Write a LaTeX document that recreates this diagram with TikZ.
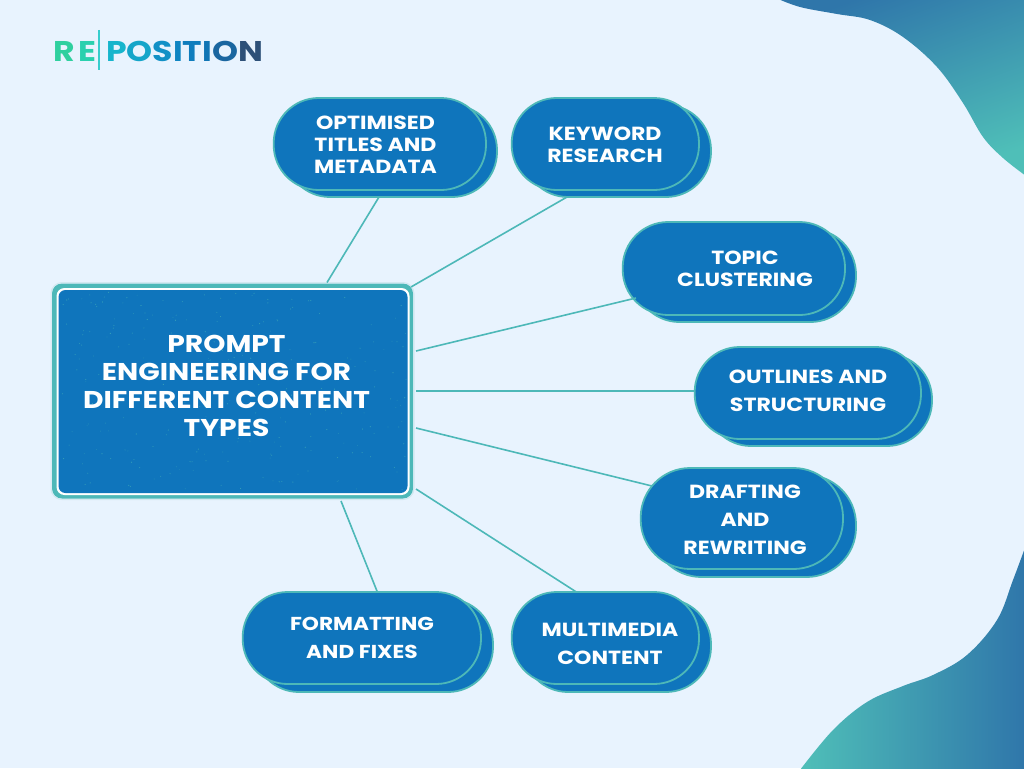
\documentclass[tikz,border=0pt]{standalone}
\usepackage{fontspec}
\setmainfont{Poppins}[FakeStretch=1.16]
\usetikzlibrary{calc}
\definecolor{pagebg}{HTML}{E8F3FE}
\definecolor{pillblue}{HTML}{0F75BC}
\definecolor{tealline}{HTML}{4DB8B8}
\definecolor{palering}{HTML}{D3E8F0}
\definecolor{blobblue}{HTML}{2F76AA}
\definecolor{blobteal}{HTML}{4FBFB8}
\tikzset{
  x=1pt,y=-1pt,
  pillshape/.style={draw=tealline,fill=pillblue,line width=1.8pt,inner sep=0pt,outer sep=0pt,rectangle},
  pilltext/.style={text=white,font=\bfseries,align=center,inner sep=0pt},
  connector/.style={draw=tealline,line width=1.6pt},
  hubring/.style={inner sep=0pt,outer sep=0pt,rectangle},
}
% #1 name, #2 left, #3 top, #4 right, #5 bottom, #6 back right, #7 back bottom
\newcommand{\mypill}[7]{%
  \pgfmathsetmacro{\myrad}{((#5)-(#3))/2-1}%
  \node[pillshape,minimum width={(#6)-(#2)-12},minimum height={(#7)-(#3)-7},rounded corners=\myrad pt] (#1back) at ({((#2)+12+(#6))/2},{((#3)+7+(#7))/2}) {};
  \node[pillshape,minimum width={(#4)-(#2)-0.7},minimum height={(#5)-(#3)},rounded corners=\myrad pt] (#1) at ({((#2)+0.7+(#4))/2},{((#3)+(#5))/2}) {};
}
\begin{document}
\begin{tikzpicture}
\useasboundingbox (0,0) rectangle (1024,768);
\fill[pagebg] (0,0) rectangle (1024,768);
% corner blobs
\begin{scope}
\clip plot[smooth,tension=0.6] coordinates {(776,-2)(800,7)(837,14)(870,20)(903,37)(937,67)(963,103)(983,137)(1003,158)(1026,176)} -- (1026,-2) -- cycle;
\shade[top color=blobblue,bottom color=blobteal,shading angle=20] (776,-2) rectangle (1026,176);
\end{scope}
\begin{scope}
\clip plot[smooth,tension=0.6] coordinates {(800,770)(833,730)(867,702)(903,686)(933,675)(967,655)(997,620)(1013,580)(1026,545)} -- (1026,770) -- cycle;
\shade[left color=blobteal,right color=blobblue] (800,540) rectangle (1026,770);
\end{scope}
% logo
\node[inner sep=0pt,anchor=base west,font=\bfseries\fontsize{28.5}{28}\selectfont] (logoa) at (53,61)
  {\textcolor[HTML]{2FD09F}{R}\kern3.5pt\textcolor[HTML]{2AD0AE}{E}};
\node[inner sep=0pt,anchor=base west,font=\bfseries\fontsize{28.5}{28}\selectfont] (logob) at (106,61)
  {\textcolor[HTML]{16B5CC}{P}\textcolor[HTML]{14A5C9}{O}\textcolor[HTML]{1190C6}{S}\textcolor[HTML]{0F85C2}{I}\textcolor[HTML]{0F7DBD}{T}\textcolor[HTML]{1075B5}{I}\textcolor[HTML]{1A66A0}{O}\textcolor[HTML]{2D5078}{N}};
\coordinate (logotop) at (99,30);
\coordinate (logobot) at (99,70);
\draw[line width=1.2pt,draw=tealline!70!cyan] (logotop) -- (logobot);
% hub
\node[hubring,draw=palering,line width=1pt,fill=pagebg,minimum width=363,minimum height=217,rounded corners=11pt] (hubouter) at (232.5,391) {};
\node[hubring,fill=tealline,minimum width=361,minimum height=215,rounded corners=10pt] (hubteal) at (232.5,391) {};
\node[hubring,fill=white,minimum width=353,minimum height=207,rounded corners=8pt] (hubwhite) at (233,391.5) {};
\node[hubring,fill=pillblue,minimum width=349,minimum height=203,rounded corners=7pt] (hub) at (233,391.5) {};
\begin{scope}
\pgfmathsetseed{42}
\foreach \i in {1,...,260}{
  \pgfmathsetmacro{\dx}{60+rnd*348}
  \pgfmathsetmacro{\dy}{292+rnd*200}
  \pgfmathsetmacro{\da}{0.2+rnd*0.45}
  \fill[tealline,opacity=\da] (\dx,\dy) circle (0.6pt);
}
\end{scope}
\node[pilltext,font=\bfseries\fontsize{24.3}{28}\selectfont] (hubtext) at (226.5,386.3) {PROMPT\\ENGINEERING FOR\\DIFFERENT CONTENT\\TYPES};
% pills
\mypill{optim}{273}{98}{486}{190}{497}{197}
\mypill{keyw}{511}{98}{699}{190}{711}{197}
\mypill{topic}{622}{222}{845}{315}{856}{322}
\mypill{outl}{694}{347}{921}{439}{932}{446}
\mypill{draft}{640}{468}{843}{569}{856}{577}
\mypill{multi}{511}{592}{699}{684}{711}{692}
\mypill{forma}{242}{592}{481}{684}{493}{692}
% connectors
\draw[connector] ([xshift=94.5pt]hubouter.north) -- ([xshift=-12pt]optimback.south);
\draw[connector] ([xshift=-3pt,yshift=-4.5pt]hubouter.north east) -- ([xshift=-50pt]keywback.south);
\draw[connector] ([xshift=2pt,yshift=40pt]hubouter.east) -- ([xshift=-109pt,yshift=24pt]topicback.south);
\draw[connector] ([xshift=2pt]hubouter.east) -- ([yshift=2pt]outl.west);
\draw[connector] ([xshift=2pt,yshift=-37pt]hubouter.east) -- ([xshift=-102pt,yshift=-11pt]draftback.north);
\draw[connector] ([xshift=2pt,yshift=10.5pt]hubouter.south east) -- ([xshift=-29pt]multi.north);
\draw[connector] ([xshift=108.5pt,yshift=-1.5pt]hubouter.south) -- ([xshift=15.5pt]forma.north);
% pill labels
\node[pilltext,font=\bfseries\fontsize{19}{22}\selectfont] (optimt) at (375.5,145) {OPTIMISED\\TITLES AND\\METADATA};
\node[pilltext,font=\bfseries\fontsize{19}{22}\selectfont] (keywt) at (605,145) {KEYWORD\\RESEARCH};
\node[pilltext,font=\bfseries\fontsize{19}{22}\selectfont] (topict) at (745,269) {TOPIC\\CLUSTERING};
\node[pilltext,font=\bfseries\fontsize{19}{28}\selectfont] (outlt) at (808,391) {OUTLINES AND\\STRUCTURING};
\node[pilltext,font=\bfseries\fontsize{19}{28}\selectfont] (draftt) at (745,520) {DRAFTING\\AND\\REWRITING};
\node[pilltext,font=\bfseries\fontsize{19}{28}\selectfont] (multit) at (610,644) {MULTIMEDIA\\CONTENT};
\node[pilltext,font=\bfseries\fontsize{18.7}{28}\selectfont] (format) at (362,638) {FORMATTING\\AND FIXES};
\end{tikzpicture}
\end{document}
